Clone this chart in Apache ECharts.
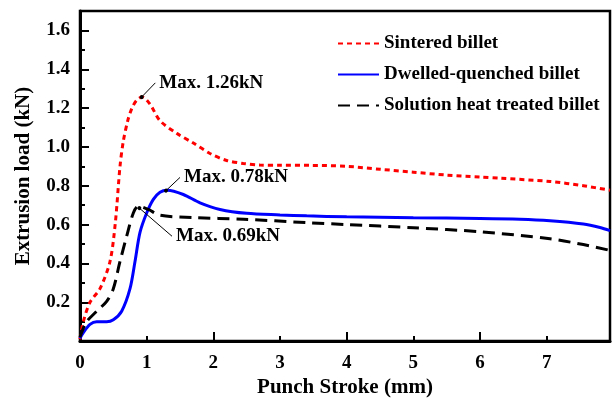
<!DOCTYPE html>
<html>
<head>
<meta charset="utf-8">
<script src="https://cdn.jsdelivr.net/npm/echarts@6/dist/echarts.min.js"></script>
<style>
  html, body { margin: 0; padding: 0; background: #fff; }
  #chart { width: 613px; height: 403px; }
</style>
</head>
<body>
<div id="chart"></div>
<script>
// data
var sinteredX = [0, 0.05, 0.15, 0.3, 0.45, 0.53, 0.6, 0.65, 0.72, 0.78, 0.85, 0.93, 1.05, 1.2, 1.45, 1.7, 1.95, 2.2, 2.45, 2.7, 3.0, 3.45, 4, 4.5, 5, 5.5, 6, 6.3, 7.05, 7.55, 7.95];
var sinteredY = [0.01, 0.1, 0.2, 0.27, 0.41, 0.61, 0.9, 1.03, 1.14, 1.2, 1.24, 1.257, 1.22, 1.135, 1.07, 1.02, 0.966, 0.93, 0.915, 0.907, 0.905, 0.905, 0.9, 0.885, 0.87, 0.855, 0.845, 0.839, 0.822, 0.8, 0.777];

var dwelledX = [0, 0.05, 0.15, 0.25, 0.4, 0.5, 0.625, 0.75, 0.825, 0.9, 1.0, 1.1, 1.2, 1.31, 1.55, 1.8, 2.1, 2.5, 3.0, 3.4, 4, 5, 6, 6.6, 7.05, 7.55, 7.8, 7.95];
var dwelledY = [0.015, 0.044, 0.086, 0.1, 0.1, 0.11, 0.154, 0.27, 0.41, 0.56, 0.66, 0.73, 0.767, 0.777, 0.755, 0.712, 0.678, 0.658, 0.65, 0.645, 0.64, 0.635, 0.632, 0.628, 0.62, 0.603, 0.585, 0.569];

var solutionX = [0, 0.025, 0.1, 0.25, 0.4, 0.5, 0.6, 0.7, 0.8, 0.875, 1.025, 1.2, 1.7, 2.45, 3.4, 4, 5, 6, 7.05, 7.55, 7.95];
var solutionY = [0.02, 0.045, 0.1, 0.154, 0.205, 0.27, 0.41, 0.54, 0.66, 0.695, 0.678, 0.648, 0.636, 0.628, 0.61, 0.6, 0.584, 0.563, 0.527, 0.497, 0.467];

var seriesNames = ['Sintered billet', 'Dwelled-quenched billet', 'Solution heat treated billet'];
var peakLabels = ['Max. 1.26kN', 'Max. 0.78kN', 'Max. 0.69kN'];
// [peak point], [end of leader line / label anchor]
var peakPoints = [[0.925, 1.257], [1.29, 0.775], [0.89, 0.685]];
var labelPoints = [[1.13, 1.33], [1.5, 0.843], [1.38, 0.54]];

var FONT = 'Liberation Serif';
var serifText = { fontFamily: FONT, fontWeight: 'bold', fontSize: 19, color: '#000' };

function pairs(xs, ys) {
  var out = [];
  for (var i = 0; i < xs.length; i++) out.push([xs[i], ys[i]]);
  return out;
}

function annotate(i) {
  return {
    markLine: {
      silent: true,
      symbol: ['circle', 'none'],
      symbolSize: 4,
      label: { show: false },
      lineStyle: { color: '#000', width: 1, type: 'solid' },
      emphasis: { disabled: true },
      data: [[{ coord: peakPoints[i] }, { coord: labelPoints[i] }]]
    },
    markPoint: {
      silent: true,
      symbol: 'circle',
      symbolSize: 0,
      data: [{
        coord: labelPoints[i],
        label: {
          show: true,
          position: 'right',
          distance: 4,
          formatter: peakLabels[i],
          color: '#000',
          fontFamily: FONT,
          fontWeight: 'bold',
          fontSize: 19
        }
      }]
    }
  };
}

var chart = echarts.init(document.getElementById('chart'));

var sintered = {
  name: seriesNames[0], type: 'line', smooth: 0.3, symbol: 'none',
  data: pairs(sinteredX, sinteredY),
  lineStyle: { color: '#ff0000', width: 3, type: [5, 4] },
  itemStyle: { color: '#ff0000' }
};
var dwelled = {
  name: seriesNames[1], type: 'line', smooth: 0.3, symbol: 'none',
  data: pairs(dwelledX, dwelledY),
  lineStyle: { color: '#0000ff', width: 3, type: 'solid' },
  itemStyle: { color: '#0000ff' }
};
var solution = {
  name: seriesNames[2], type: 'line', smooth: 0.3, symbol: 'none',
  data: pairs(solutionX, solutionY),
  lineStyle: { color: '#000000', width: 3, type: [12, 7] },
  itemStyle: { color: '#000000' }
};
Object.assign(sintered, annotate(0));
Object.assign(dwelled, annotate(1));
Object.assign(solution, annotate(2));

var option = {
  animation: false,
  backgroundColor: '#fff',
  textStyle: { fontFamily: FONT, fontWeight: 'bold', color: '#000' },
  grid: {
    left: 80, right: 3, top: 11, bottom: 56,
    show: true, borderColor: '#000', borderWidth: 2.5
  },
  legend: {
    orient: 'vertical',
    left: 332, top: 29,
    itemWidth: 41, itemHeight: 14, itemGap: 12,
    data: seriesNames,
    itemStyle: { opacity: 0 },
    formatter: '{s|{name}}',
    textStyle: {
      color: '#000', fontFamily: FONT, fontWeight: 'bold', fontSize: 19,
      rich: { s: serifText }
    }
  },
  xAxis: [{
    type: 'value', min: 0, max: 7.95, interval: 1,
    name: 'Punch Stroke (mm)', nameLocation: 'middle', nameGap: 35,
    nameTextStyle: { color: '#000', fontFamily: FONT, fontWeight: 'bold', fontSize: 21 },
    axisLine: { show: true, lineStyle: { color: '#000', width: 3 } },
    axisTick: { show: true, inside: true, length: 5, lineStyle: { color: '#000', width: 2 } },
    axisLabel: {
      color: '#000', fontFamily: FONT, fontWeight: 'bold', fontSize: 19, margin: 12, showMaxLabel: false,
      formatter: function (v) { return '{s|' + v + '}'; },
      rich: { s: serifText }
    },
    splitLine: { show: false }
  }, {
    type: 'value', min: 0, max: 7.95, interval: 2, position: 'bottom',
    axisLine: { show: false },
    axisTick: { show: true, inside: true, length: 9, lineStyle: { color: '#000', width: 2 } },
    axisLabel: { show: false },
    splitLine: { show: false }
  }],
  yAxis: {
    type: 'value', min: 0, max: 1.7, interval: 0.2,
    name: 'Extrusion load (kN)', nameLocation: 'middle', nameGap: 46,
    nameTextStyle: { color: '#000', fontFamily: FONT, fontWeight: 'bold', fontSize: 21 },
    axisLine: { show: true, lineStyle: { color: '#000', width: 3 } },
    axisTick: { show: true, inside: true, length: 9, lineStyle: { color: '#000', width: 2 } },
    minorTick: { show: true, splitNumber: 2, length: 5, lineStyle: { color: '#000', width: 2 } },
    axisLabel: {
      color: '#000', fontFamily: FONT, fontWeight: 'bold', fontSize: 19, margin: 10,
      showMinLabel: false, showMaxLabel: false,
      formatter: function (v) { return '{s|' + v.toFixed(1) + '}'; },
      rich: { s: serifText }
    },
    splitLine: { show: false }
  },
  series: [sintered, dwelled, solution]
};

chart.setOption(option);
</script>
</body>
</html>
